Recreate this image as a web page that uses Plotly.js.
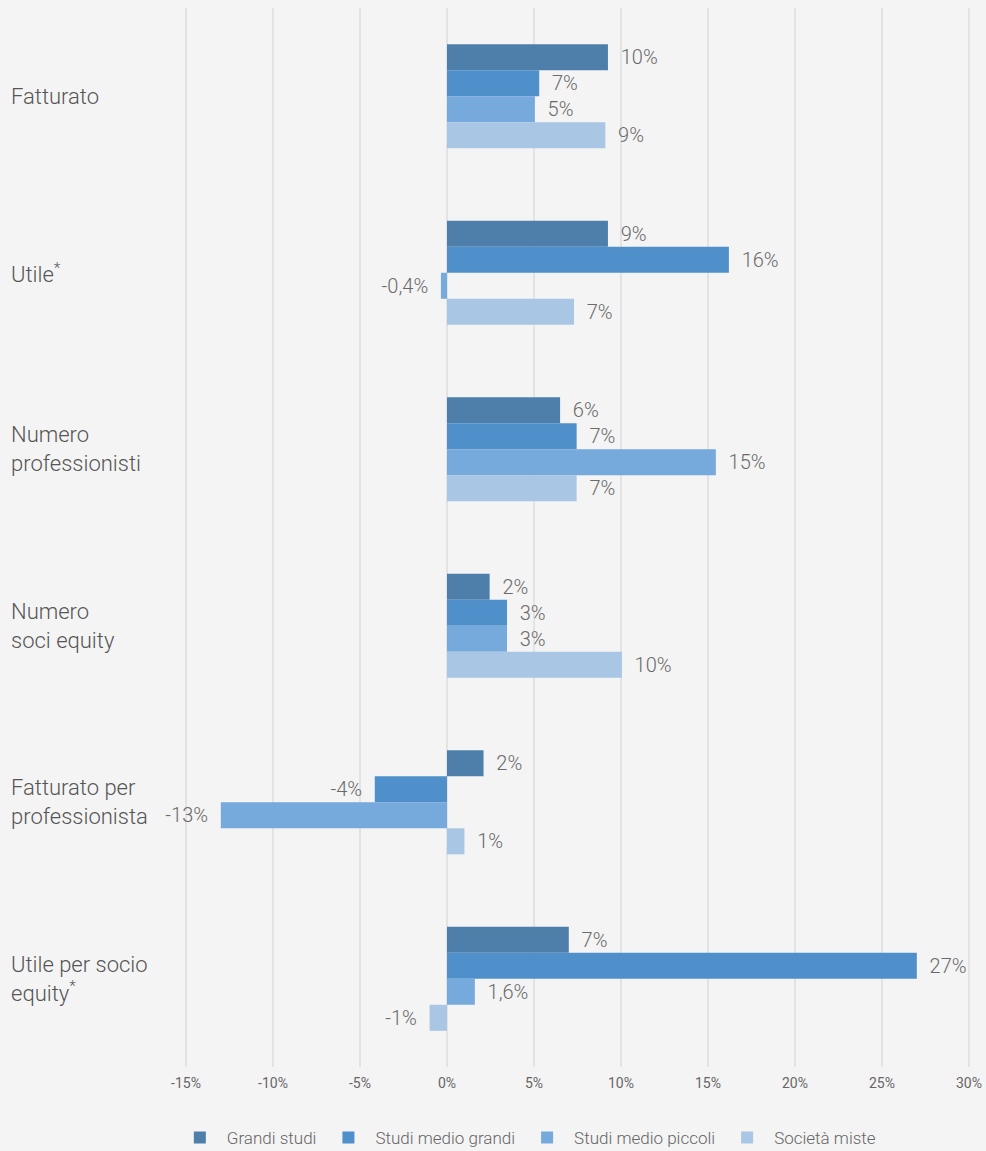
<!DOCTYPE html>
<html>
<head>
<meta charset="utf-8">
<script src="https://cdn.plot.ly/plotly-3.0.1.min.js"></script>
<style>
html,body{margin:0;padding:0;background:#f4f4f4;}
#chart{width:986px;height:1151px;}
</style>
</head>
<body>
<div id="chart"></div>
<script>
// Categories (top to bottom)
const categories = ["Fatturato", "Utile*", "Numero professionisti", "Numero soci equity", "Fatturato per professionista", "Utile per socio equity*"];
const categoryLabels = ["Fatturato", "Utile<sup>*</sup>", "Numero<br>professionisti", "Numero<br>soci equity", "Fatturato per<br>professionista", "Utile per socio<br>equity<sup>*</sup>"];

const seriesNames = ["Grandi studi", "Studi medio grandi", "Studi medio piccoli", "Società miste"];

// Bar values (%)
const grandiStudi      = [9.25, 9.25, 6.5, 2.45, 2.1, 7.0];
const studiMedioGrandi = [5.3, 16.2, 7.45, 3.45, -4.15, 27.0];
const studiMedioPiccoli= [5.05, -0.35, 15.45, 3.45, -13.0, 1.6];
const societaMiste     = [9.1, 7.3, 7.45, 10.05, 1.0, -1.0];

// Printed labels
const grandiStudiLbl       = ["10%", "9%", "6%", "2%", "2%", "7%"];
const studiMedioGrandiLbl  = ["7%", "16%", "7%", "3%", "-4%", "27%"];
const studiMedioPiccoliLbl = ["5%", "-0,4%", "15%", "3%", "-13%", "1,6%"];
const societaMisteLbl      = ["9%", "7%", "7%", "10%", "1%", "-1%"];

const xTickVals = [-15, -10, -5, 0, 5, 10, 15, 20, 25, 30];
const xTickText = ["-15%", "-10%", "-5%", "0%", "5%", "10%", "15%", "20%", "25%", "30%"];

const colors = ["#4e7fab", "#4f8fca", "#76a9dc", "#a9c6e4"];

const values = [grandiStudi, studiMedioGrandi, studiMedioPiccoli, societaMiste];
const labels = [grandiStudiLbl, studiMedioGrandiLbl, studiMedioPiccoliLbl, societaMisteLbl];

const FONT = "Roboto, 'Open Sans', sans-serif";

const traces = values.map((vals, i) => ({
  type: "bar",
  orientation: "h",
  name: seriesNames[i],
  y: categories,
  x: vals,
  text: labels[i],
  texttemplate: vals.map(v => v < 0 ? "%{text}  " : "  %{text}"),
  textposition: "outside",
  constraintext: "none",
  cliponaxis: false,
  textfont: {family: FONT, size: 20, color: "#6a6a6a", weight: 300},
  marker: {color: colors[i], line: {width: 0}},
  hoverinfo: "skip"
}));

const annotations = categories.map((c, i) => ({
  xref: "paper", yref: "y",
  x: -0.198, y: c,
  xanchor: "left", yanchor: "middle",
  align: "left",
  text: categoryLabels[i],
  showarrow: false,
  font: {family: FONT, size: 22, color: "#555555", weight: 300}
}));

const layout = {
  width: 986, height: 1151,
  paper_bgcolor: "#f4f4f4",
  plot_bgcolor: "#f4f4f4",
  margin: {l: 170, r: 5, t: 8, b: 84, autoexpand: false},
  barmode: "group",
  bargap: 0.41,
  bargroupgap: 0,
  showlegend: true,
  legend: {
    orientation: "h",
    x: 0.44, xanchor: "center",
    y: -0.067, yanchor: "middle",
    itemwidth: 44,
    font: {family: FONT, size: 17, color: "#666666", weight: 300},
    bgcolor: "rgba(0,0,0,0)",
    traceorder: "normal"
  },
  xaxis: {
    range: [-15.92, 30.69],
    tickvals: xTickVals,
    ticktext: xTickText,
    showgrid: true,
    gridcolor: "#e3e3e3",
    gridwidth: 1.5,
    zeroline: false,
    showline: false,
    ticks: "",
    ticklabelstandoff: 6,
    tickfont: {family: FONT, size: 14, color: "#666666"},
    fixedrange: true
  },
  yaxis: {
    type: "category",
    categoryorder: "array",
    categoryarray: categories,
    autorange: "reversed",
    showticklabels: false,
    showgrid: false,
    zeroline: false,
    ticks: "",
    fixedrange: true
  },
  annotations: annotations,
  font: {family: FONT}
};

Plotly.newPlot("chart", traces, layout, {displayModeBar: false, staticPlot: true});
</script>
</body>
</html>
